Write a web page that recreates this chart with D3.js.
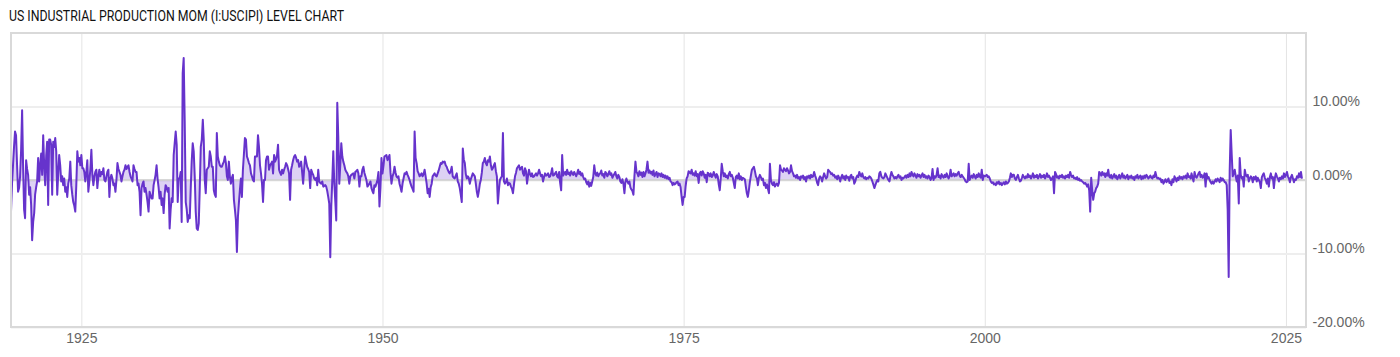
<!DOCTYPE html>
<html>
<head>
<meta charset="utf-8">
<title>US Industrial Production MoM</title>
<script src="https://cdn.jsdelivr.net/npm/d3@7"></script>
<style>
  body { margin: 0; background: #fff; }
  svg { display: block; font-family: Roboto, "Noto Sans", sans-serif; }
</style>
</head>
<body>
<svg id="chart" width="1400" height="357"></svg>
<script>
var title = 'US INDUSTRIAL PRODUCTION MOM (I:USCIPI) LEVEL CHART';

// monthly % change, first value is March 1919
var firstMonth = new Date(1919, 2, 1);
var domainEnd = new Date(2026, 8, 1);
var xTickYears = [1925, 1950, 1975, 2000, 2025];
var yTicks = [-20, -10, 0, 10];

var mom1919 = [-4.3, -0.5, 2, 4.5, 6.6, 6.1, 2, -1.6, -1.1, 0.5];
var mom1920s = [
  4, 9.5, 2, -4, -5.2, 2.7, 1.5, 0.7, -2, -1, -3.4, -8.2,
  -5.7, -4.5, -2, -1, -0.2, 3, -0.2, 2, 3.6, 0.7, 6.1, 2,
  -0.7, 3.4, 5.2, -3.4, 5.5, 5.5, 4.8, -2, 5.2, 4.5, 5.7, 3.9,
  -2, 1, 3.4, 2, -0.2, 0.5, -0.7, 0.2, -1.6, -1, -2.3, -0.5,
  0.2, 2.5, -0.7, -2, -3, -3.5, -4.3, -0.7, 3.9, 2.5, 3, 2,
  3.4, 1.6, 1.6, 1.1, -0.2, 1, 2.7, -1.6, -0.2, 1.5, 4.1, 0.7,
  -0.7, 0.5, 1.1, 1.4, -1.1, 0.5, 1.4, 0.5, 1.1, 0.8, 1.6, 0,
  -0.2, 0.5, 1.1, 1.4, -2.3, 0.2, 0.7, 0.2, -0.7, -0.5, -1.6, 0,
  2.3, 1.5, 1.1, 0.7, -0.2, 0.5, 1.1, 1.4, 2, 1.5, 1.8, 2,
  1.1, 0.5, 0.2, -0.2, 2, 1.5, 1.1, 1.1, -0.7, -0.5, -1.6, -4.8
];
var mom1930s = [
  -1.1, -0.5, -0.2, -1.6, -1.1, -2, -3, -4.3, -1.6, -2, -2.5, -2.5,
  -0.7, 0, 0.7, 2, 0.2, -1, -2.5, -1.6, -3.4, -2.5, -4.5, -2,
  -0.7, -1, -1.6, -1.1, -6.6, -4, -2.5, -3, 3.4, 5, 6.6, 4.8,
  -3, 0.2, 0.2, 1.1, -5.7, 14.5, 16.6, 8, -3, -4, -5.7, -4.8,
  -5.2, -1, 2.5, 5, 3.9, 0.5, -4.3, -6.6, -6.8, -5.9, -1, 4.5,
  5.5, 8.2, 5.5, 0, -1.8, 1.4, 1.6, 1.8, 3.9, 3.2, 1.8, 1.8,
  -1.4, -2, -2.3, 6.4, 3.2, 2.5, 2, 1.8, 1.8, 2.2, 2.5, 3.2,
  2.3, 0.5, 0, 2.5, 0.5, -0.5, 0.3, 0.7, -2.7, -4, -5.5, -9.8,
  -5, -3, -1.4, 0.2, -2.3, 1.4, 3.5, 5.7, 5.5, 3.2, 2.8, 2.3,
  2, 0.9, 0.5, 0, -0.2, 3.2, 3.2, 3.2, 6.1, 4.5, 2, 0.9
];
var mom1940s = [
  -0.5, -3, 0, 0, 2.7, 3.2, 3.2, 1.4, 2, 2.2, 2.5, 0.9,
  3.4, 2.5, 2.8, 3.4, 4.8, 1.4, 1, 0.7, 1.4, 0.9, 1.4, 1.8,
  2.3, 2, 1.5, 0.9, -2.7, 1.4, 2, 2.7, 3.2, 3.4, 3, 2.5,
  2.7, 1.8, 2, 2.5, 1.1, -0.5, 1.5, 3.2, 2.5, 1.8, 1.5, 1.1,
  -1.1, 1.4, 1, 0.7, 0.2, 0, 0.3, -0.7, 1.4, -0.2, -0.4, -0.5,
  -0.2, -0.9, -0.8, -0.7, -0.9, -1.5, -2.3, -3.2, -10.5, -3.6, 0, 3.9,
  -0.5, -3, -5.5, 10.5, 5.9, -0.5, 2, 5, 3.2, 2.5, 2, 1.4,
  1.1, 0.9, 0.5, -0.5, 0.5, 0.7, 0.8, 0.9, 0.2, 1.1, 1.2, 1.4,
  0.9, -0.9, 0.5, 0.5, 1.4, 1.8, 1, 0.5, 0, -0.9, -0.7, -0.5,
  -0.2, -1.1, -1.5, -1.8, -0.7, -0.9, -0.5, 0, 1.1, -3.6, -1, 3
];
var mom1950s = [
  0.9, 2, 3.2, 3.3, 3.4, 2.7, 3, 3.4, 1, -0.5, 0.5, 0.9,
  1.8, 1, 0.5, 0.3, 0.5, -0.5, -1, -1.6, -0.5, 0.2, 0.9, 0.8,
  1.1, 0.7, 0.4, 0, -0.5, -0.9, -1.2, -1.6, 6.6, 3, 2.3, 1.2,
  0.9, 0.5, 0.7, 0.9, 0.5, 0.8, 1.4, 0.5, -0.5, -1.8, -1.2, -2.3,
  -1, -0.5, 0.5, 0.7, 0.9, 0.6, 0.5, 0.9, 1.3, 1.8, 2.3, 2.2,
  2.5, 2.4, 2.5, 2, 1.8, 1.4, 1.1, 0.9, 1.2, 1.8, 0.5, 0.3,
  0.2, 0.6, 0.9, -0.2, -0.5, -1.1, -2, -3, 4.3, 2.8, 2.3, 0.8,
  0.2, 0.5, 0.3, -0.5, 0.1, 0.5, 0.9, 0.7, 0.5, -0.5, -1.6, -2.3,
  -1.5, -0.5, 0, 1, 2.3, 2.5, 3, 2.3, 2, 2.7, 2.5, 3.2,
  2, 1.4, 1.6, 2, 2.3, 1.2, 0.5, -3.2, -1.4, 0, 0.3, 0.5
];
var mom1960s = [
  6.4, -0.2, -0.5, -0.3, 0.2, -0.7, -0.4, -0.5, -0.9, -1.2, -1.8, -0.6,
  0.5, 1, 1.6, 1.8, 2, 1.4, 1.6, 1.8, 0.9, 0.6, 1.6, 1.2,
  -0.5, 0.6, 1.4, 0.8, 0.5, 0.9, 0.4, 0.5, 0.7, 0.9, 0.6, 0.9,
  1.4, 0.9, 0.5, 0.7, -0.2, 0.4, 0.9, 0.6, 0.7, 0.9, 0.4, 0.5,
  0.9, 1.6, 0.6, 0.7, 0.9, 1.1, 0.5, 0.3, 1.1, -0.4, -1.4, 3.4,
  0.6, 0.9, 1.1, 0.7, 1.4, 0.8, 1, 0.6, 1.2, 0.9, 0.7, 1.1,
  0.8, 0.5, 0.9, 1.4, 0.8, 1.1, 0.6, 0.9, 0.4, 0.1, 0.2, -0.3,
  -0.6, -0.2, -0.9, -0.4, -0.8, -0.2, 0.4, 2, 0.9, 0.6, 1, 0.5,
  0.8, 0.9, 1.3, 0.6, 0.8, 0.3, 1.1, 0.9, 0.5, 0.8, 1.2, 0.7,
  0.9, 0.3, 0.6, 0.8, 1.1, 0.5, 0.2, 0.7, 0.4, -0.2, -0.4, 0.1
];
var mom1970s = [
  -0.5, -1.8, -0.3, 0.2, -0.2, -0.5, -0.2, -1, -1.3, -1.5, -2, 0.5,
  2.5, 1.1, 0.9, 0.5, 1.2, 0.7, 1, 0.4, 1.1, 0.5, 0.9, 1.4,
  2.5, 1, 1.3, 0.9, 1.1, 0.7, 1.3, 0.5, 0.8, 1.1, 0.4, 0.9,
  0.8, 0.5, 0.9, 0.4, 0.7, 0.3, 0.6, 0.2, 0.5, 0.1, 0.3, -0.2,
  -0.3, -0.7, -0.4, -0.6, -0.5, -0.3, -0.2, -0.7, -0.5, -1, -2.3, -3.4,
  -2.3, -2.3, -0.9, 0.2, 0.5, 1.2, 1, 0.9, 1.4, 0.7, 0.9, 0.6,
  1.2, 0.5, 0.8, -0.4, 0.9, 1.1, 0.6, 1.2, 0.9, 0.3, 0.7, -0.3,
  1, 0.8, 0.5, 0.9, 0.4, 0.6, 1.1, 0.7, 0.3, 0.8, 0.5, -0.6,
  -1.4, 0.3, 2.2, 1.2, 0.5, 0.9, 0.4, 0.6, 0.2, 0.8, 1.1, 0.5,
  0.7, 0.3, -0.4, -1.1, 0.4, 0.6, 0.2, 0.9, 0.1, 0.5, 0, 0.3
];
var mom1980s = [
  0.2, 0.1, -0.9, -1.8, -2.3, -1.4, -0.3, 0.6, 1.4, 1.6, 1.8, 1.2,
  0.5, 0.2, -0.7, 0.3, 0.7, 0.4, 0, 0.2, -0.7, -0.4, -1.1, -0.6,
  -1.2, -1.8, 2.2, 0, -0.5, -0.7, -0.3, -0.9, -0.6, -0.5, -0.8, -0.4,
  2, 1.4, 1.3, 1.1, 1.6, 1.4, 1.2, 1.6, 1.3, 0.9, 1.1, 2,
  1.2, 0.9, 0.5, 0.6, 0.3, 0.7, 0.2, 0.4, 0, 0.5, 0.3, 0.6,
  0.1, 0.4, -0.2, 0.5, 0.3, 0.6, 0.2, 0.7, 0.4, 0.5, 1.1, 0.6,
  0.2, -0.4, -0.7, 0.2, 0.5, 0.3, -0.2, 0.4, 0.9, 0.5, 0.2, 0.4,
  1.4, 1.2, 1.1, 0.8, 0.9, 0.6, 0.7, 0.3, 0.5, 0.1, 0.6, 0.3,
  -0.2, 0.4, 0.7, 0.2, 0.5, 0, 0.6, 0.3, 0.4, -0.1, 0.5, 0.7,
  0.2, 0.4, -0.5, -0.2, 0.3, 0.6, 0.4, 1.1, 0.7, 0.5, 0.9, 0.4
];
var mom1990s = [
  0.2, 0.4, 0.1, 0.3, 0.2, 0.5, 0.4, 0.2, -0.2, -0.6, -1.1, -0.7,
  -0.3, 0, -0.2, 0.9, 1.1, 0.5, 0.3, 0.2, 0.4, 0.9, 0.6, 0.3,
  0, -0.2, 0.5, 1.1, 0.7, 0.5, 0.2, 0.4, 0.2, 0.5, 0.7, 0.3,
  0.5, 0, 0.3, 0.2, 0.4, 0.6, 0.3, 0.7, 0.4, 0.9, 0.5, 1.1,
  0.7, 0.5, 0.9, 0.6, 0.3, 0.8, 0.5, 0.7, 0.3, 0.6, 0.9, 0.4,
  0.7, 0.3, 0.5, 0.2, 0.6, 0.4, 0, 0.3, 1.5, 0, 0.5, 0.3,
  0.7, 1.6, 0.4, 0.6, 0.2, 0.8, 0.5, 0.3, 0.7, 0.4, 0.9, 0.5,
  0.2, 0.6, 1.4, 0.5, 0.7, 0.9, 0.5, 0.8, 0.6, 0.9, 1.1, 0.6,
  0.4, 0.7, 0.5, 0.3, 0.1, -0.2, -0.3, -0.2, 2.2, 0, 0.4, 0.6,
  0.3, 0.8, 0.5, 0.2, 0.7, 0.4, 0.9, 0.5, 0.3, 1.4, 0, 0.6
];
var mom2000s = [
  0.5, 0.6, 0.7, 0.4, 0.5, 0.2, -0.2, -0.4, -0.3, -0.6, -0.5, -0.7,
  -0.3, -0.5, -0.2, -0.6, -0.4, -0.7, -0.5, -0.3, -0.6, -0.2, -0.5, -0.4,
  -0.2, 0.3, 0.9, 0.4, 0.7, 0.7, 0.2, 0, 0.4, 0.7, 0.2, -0.2,
  -0.1, 0.3, 0.7, 0.4, 0.2, 0.5, 0.3, 0.8, 0.4, 0.6, 0.2, 0.5,
  0.9, 0.3, 0.6, 0.4, 0.7, 0.2, 0.5, 0.8, 0.3, 0.6, 0.4, 0.7,
  0.2, 0.5, 0.9, 0.4, 0.6, 0.3, 0, 0.2, 0.5, -1.8, 1.1, 0.8,
  0.3, 0.5, 0.2, 0.6, 0.4, 0.7, 0.3, 0.5, 0.2, 0.6, 0.4, 0.7,
  0.3, 1.1, 0.7, 0.4, 0.6, 0.2, 0.3, 0.1, 0.4, 0, 0.2, -0.1,
  0, -0.2, -0.3, -0.5, -0.4, -0.6, -0.9, -0.6, -1.4, -4.3, 0.3, -1.4,
  -2.7, -1.8, -1.6, -1.1, -0.9, -0.5, 1.1, 0.9, 0.6, 1.1, 0.7, 0.9
];
var mom2010s = [
  0.4, 0.9, 0.6, 1.4, 0.5, 0.3, 0.7, 0.2, 0.5, 0.8, 0.3, 0.6,
  0.1, 0.4, 0.7, 0.2, 0.5, 0.9, 0.3, 0.6, 0.2, 0.4, 0.7, 0.1,
  0.5, 0.3, 0.6, 0.2, 0.4, 0, 0.5, 0.3, 0.7, 0.2, 0.4, 0.6,
  0.1, 0.5, 0.2, 0.6, 0.3, 0.7, 0.5, 0.2, 0.4, 0.6, 0.3, 0.2,
  0.6, 0.4, 1.1, 0.5, 0.2, 0.3, 0.1, 0.2, -0.3, 0, -0.5, -0.2,
  0.1, -0.3, -0.1, 0.2, -0.4, -0.2, -0.7, 0.1, -0.3, 0.5, 0.2, -0.2,
  0.3, 0, 0.5, 0.2, 0.4, 0.1, 0.5, 0.3, 0.6, 0.2, 0.9, 0.4,
  0.5, 0.2, 0.9, 0.3, -0.2, 1.1, 0.5, 0.3, 0.6, 0.9, 1.1, 0.4,
  0.7, 0.3, 0.4, 0.9, -0.9, 0.9, 0.2, 0.4, 0, -0.3, -0.5, -0.2,
  -0.5, -0.2, 0.1, -0.2, 0.2, 0, -0.3, 0.3, -0.1, 0.2, 0, -0.3
];
var mom2020s = [
  -0.3, -0.7, -4, -13.2, 1.2, 6.8, 3.5, 0.5, 0.9, 1.4, 0.5, -0.2,
  0.6, -3.2, 3, 0.7, 0.2, 0.4, -0.9, 1.4, 0.7, 0.5, 0.7, -0.2,
  0.2, 0.5, 0.3, -0.3, 0.4, 0.1, 0.5, -0.2, 0.3, 0, -0.3, -1.1,
  0.4, 0.7, 0.9, 0.3, 0, -0.5, 0.2, -0.9, 0.4, 0.9, 0.2, 0.4,
  -1.1, 0.3, 0.9, 0.5, 0.2, -0.2, 0.3, 0.1, 0.5, 0.2, 0.9, 0.4,
  0.7, 1.1, 0.5, 0.2, -0.3, 0.4, 0.7, 0.2, -0.3, 0.1, 0, 0.5,
  0.3, 0.9, 0.4, 1.1, 0.2
];

var plot = { left: 11, right: 1306, top: 33, bottom: 327 };
var lineColor = '#6633cc';

var values = [].concat(mom1919, mom1920s, mom1930s, mom1940s, mom1950s,
  mom1960s, mom1970s, mom1980s, mom1990s, mom2000s, mom2010s, mom2020s);

var data = values.map(function (v, i) {
  return { date: d3.timeMonth.offset(firstMonth, i), value: v };
});

var x = d3.scaleTime()
  .domain([firstMonth, domainEnd])
  .range([plot.left, plot.right]);

var y = d3.scaleLinear()
  .domain([-20, 20])
  .range([plot.bottom, plot.top]);

var svg = d3.select('#chart');

svg.append('text')
  .attr('x', 9)
  .attr('y', 21)
  .attr('textLength', 335)
  .attr('lengthAdjust', 'spacingAndGlyphs')
  .style('font-size', '14px')
  .style('fill', '#111')
  .text(title);

// vertical grid + year labels
var xAxis = d3.axisBottom(x)
  .tickValues(xTickYears.map(function (yr) { return new Date(yr, 0, 1); }))
  .tickSize(-(plot.bottom - plot.top))
  .tickPadding(6)
  .tickFormat(d3.timeFormat('%Y'));

var gx = svg.append('g')
  .attr('class', 'x-axis')
  .attr('transform', 'translate(0,' + plot.bottom + ')')
  .call(xAxis);
gx.select('.domain').remove();
gx.selectAll('line').attr('stroke', '#e4e4e4');
gx.selectAll('text')
  .style('font-size', '14px')
  .style('fill', '#666');

// horizontal grid + percent labels
var yAxis = d3.axisRight(y)
  .tickValues(yTicks)
  .tickSize(-(plot.right - plot.left))
  .tickPadding(6.5)
  .tickFormat(function (d) { return d.toFixed(2) + '%'; });

var gy = svg.append('g')
  .attr('class', 'y-axis')
  .attr('transform', 'translate(' + plot.right + ',0)')
  .call(yAxis);
gy.select('.domain').remove();
gy.selectAll('line')
  .attr('stroke', '#eeeeee')
  .attr('stroke-width', 2);
gy.selectAll('text')
  .attr('dy', -1)
  .style('font-size', '14px')
  .style('fill', '#666');

svg.append('clipPath')
  .attr('id', 'plot-clip')
  .append('rect')
  .attr('x', plot.left)
  .attr('y', plot.top)
  .attr('width', plot.right - plot.left)
  .attr('height', plot.bottom - plot.top);

var body = svg.append('g').attr('clip-path', 'url(#plot-clip)');

var area = d3.area()
  .x(function (d) { return x(d.date); })
  .y0(y(0))
  .y1(function (d) { return y(d.value); });

var line = d3.line()
  .x(function (d) { return x(d.date); })
  .y(function (d) { return y(d.value); });

body.append('path')
  .datum(data)
  .attr('d', area)
  .attr('fill', lineColor)
  .attr('fill-opacity', 0.22);

body.append('line')
  .attr('x1', plot.left)
  .attr('x2', plot.right)
  .attr('y1', y(0))
  .attr('y2', y(0))
  .attr('stroke', '#cfcfcf')
  .attr('stroke-opacity', 0.8)
  .attr('stroke-width', 2);

body.append('path')
  .datum(data)
  .attr('d', line)
  .attr('fill', 'none')
  .attr('stroke', lineColor)
  .attr('stroke-width', 2)
  .attr('stroke-linejoin', 'round');

// frame
svg.append('rect')
  .attr('x', plot.left)
  .attr('y', plot.top)
  .attr('width', plot.right - plot.left)
  .attr('height', plot.bottom - plot.top)
  .attr('fill', 'none')
  .attr('stroke', '#d9d9d9')
  .attr('stroke-width', 2);
</script>
</body>
</html>
